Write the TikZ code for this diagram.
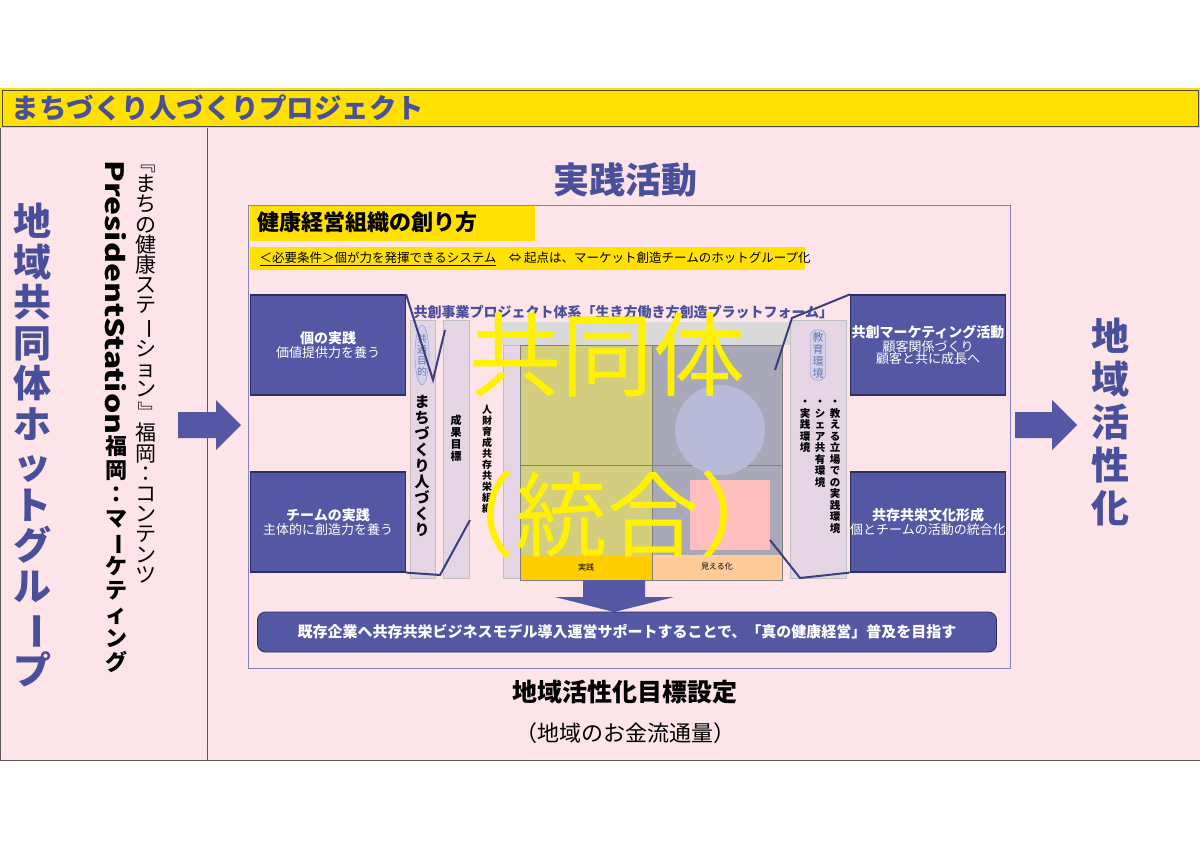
\documentclass[tikz,border=0pt]{standalone}
\usepackage{fontspec}
\usepackage{graphicx}
\setmainfont{Noto Sans CJK JP}
\usetikzlibrary{shapes.geometric}
\definecolor{pk}{HTML}{FCE4E8}
\definecolor{bt}{HTML}{4A4F9C}
\definecolor{bx}{HTML}{5458A4}
\definecolor{yl}{HTML}{FFE000}
\definecolor{lav}{HTML}{E4D4E4}
\definecolor{olive}{HTML}{C8C060}
\definecolor{gq}{HTML}{A8A8B8}
\newcommand\R[1]{\rotatebox[origin=c]{-90}{#1}}
\newcommand\fs[2]{\fontsize{#1}{#2}\selectfont}
\tikzset{
 bluebox/.style={draw=bt!60!black,line width=1.2pt,fill=bx,text=white,align=center,minimum width=155pt,minimum height=100pt,inner sep=0pt},
 vert/.style={align=center,inner sep=0pt,anchor=north},
 fatarrow/.style={fill=bx,draw=none},
 col/.style={draw=gray!50,fill=lav,line width=0.6pt}
}
\begin{document}
\begin{tikzpicture}[x=1pt,y=-1pt]
\useasboundingbox (0,0) rectangle (1200,849);
\fill[white] (0,0) rectangle (1200,849);
% frame
\fill[pk] (0,88) rectangle (1200,760);
\draw[gray!70!black,line width=0.8pt] (0,88) rectangle (1200,760);
\fill[yl] (0,88) rectangle (1200,128);
\draw[gray!60!black,line width=0.8pt] (2,90) rectangle (1198,126);
\node[anchor=west,text=bt,font=\fs{27.5}{30}\bfseries] (title) at (8,108) {まちづくり人づくりプロジェクト};
\draw[gray!70!black,line width=0.8pt] (207,128) -- (207,760);
% left vertical texts
\node[vert,text=bt,font=\fs{38}{40.5}\bfseries] (lgrp) at (32,203) {地\\域\\共\\同\\体\\ホ\\ッ\\ト\\グ\\ル\\\R{ー}\\プ};
\node[vert,font=\fs{21}{20.2}] (c1) at (146,152) {\R{『}\\ま\\ち\\の\\健\\康\\ス\\テ\\\R{ー}\\シ\\ョ\\ン\\\R{』}\\福\\岡\\：\\コ\\ン\\テ\\ン\\ツ};
\node[vert,font=\fs{22}{24}\bfseries] (c2) at (116,160) {\R{\scalebox{1.45}[1.15]{PresidentStation}}\\福\\岡\\：\\マ\\\R{ー}\\ケ\\テ\\ィ\\ン\\グ};
\node[vert,text=bt,font=\fs{38}{43}\bfseries] (rgt) at (1110,318) {地\\域\\活\\性\\化};
% arrows
\fill[fatarrow] (178,412) -- (216,412) -- (216,400) -- (241,425) -- (216,450) -- (216,438) -- (178,438) -- cycle;
\fill[fatarrow] (1015,412) -- (1052,412) -- (1052,400) -- (1077,425) -- (1052,450) -- (1052,438) -- (1015,438) -- cycle;
% title
\node[text=bt,font=\fs{36}{40}\bfseries] (jt) at (625,180) {実践活動};
% inner frame
\draw[bt!70,line width=0.8pt,fill=pk] (248,205) rectangle (1010,668);
\fill[yl] (250,206) rectangle (535,241);
\node[anchor=west,font=\fs{22}{24}\bfseries] (kt) at (254,222) {健康経営組織の創り方};
\fill[yl] (250,247) rectangle (805,270);
\node[anchor=west,font=\fs{12.5}{14}] (ns) at (256,258.5) {\underline{＜必要条件＞個が力を発揮できるシステム}\quad ⇔ 起点は、マーケット創造チームのホットグループ化};
% center picture (approx.)
\node[anchor=west,text=bt,font=\fs{14}{16}\bfseries] (kp) at (410,312) {共創事業プロジェクト体系「生き方働き方創造プラットフォーム」};
\draw[col] (410,320) rectangle (435,578);
\draw[col] (443,320) rectangle (469,578);
\draw[col] (503,345) rectangle (520,578);
\draw[col] (790,320) rectangle (846,578);
\fill[gray!30] (500,322) rectangle (790,345);
\node[font=\fs{9}{10},text=bt] (ch) at (645,350) {地域共同体ホットグループビジネスモデル};
\fill[olive!80] (520,345) rectangle (652,555);
\fill[gq] (652,345) rectangle (782,555);
\fill[yl!80!orange] (520,555) rectangle (652,580);
\fill[orange!40] (652,555) rectangle (782,580);
\draw[gray,line width=0.6pt] (520,345) rectangle (782,580);
\draw[gray,line width=0.6pt] (652,345) -- (652,580) (520,465) -- (782,465);
\fill[bt!40] (720,430) circle (45);
\fill[red!25] (690,480) rectangle (770,550);
\node[font=\fs{8}{9}] (q1) at (586,567) {実践};
\node[font=\fs{8}{9}] (q2) at (717,567) {見える化};
\node[vert,font=\fs{15}{16}\bfseries] (m1) at (422,395) {ま\\ち\\づ\\く\\り\\人\\づ\\く\\り};
\node[vert,font=\fs{11}{12}\bfseries] (m2) at (456,415) {成\\果\\目\\標};
\node[vert,font=\fs{10}{11}\bfseries] (m3) at (487,405) {人\\財\\育\\成\\共\\存\\共\\栄\\組\\織};
\node[vert,font=\fs{10.5}{11.5}\bfseries] (m4) at (805,400) {・\\実\\践\\環\\境};
\node[vert,font=\fs{10.5}{11.5}\bfseries] (m5) at (820,400) {・\\シ\\ェ\\ア\\共\\有\\環\\境};
\node[vert,font=\fs{10.5}{11.5}\bfseries] (m6) at (835,400) {・\\教\\え\\る\\立\\場\\で\\の\\実\\践\\環\\境};
\node[draw=bt!60,fill=bt!25,ellipse,font=\fs{10}{11},align=center,inner sep=0pt,text=bt!80] (e1) at (422,355) {共\\通\\目\\的};
\node[draw=bt!60,fill=bt!25,font=\fs{11}{12},align=center,inner sep=2pt,rounded corners=6pt,text=bt!80] (e2) at (818,355) {教\\育\\環\\境};
% blue boxes
\node[bluebox] (b1) at (328,345) {{\fs{14}{18}\bfseries 個の実践}\\{\fs{13}{17}価値提供力を養う}};
\node[bluebox] (b2) at (328,522) {{\fs{14}{18}\bfseries チームの実践}\\{\fs{13}{17}主体的に創造力を養う}};
\node[bluebox] (b3) at (928,345) {{\fs{14}{18}\bfseries 共創マーケティング活動}\\{\fs{13}{17}顧客関係づくり}\\{\fs{13}{17}顧客と共に成長へ}};
\node[bluebox] (b4) at (928,522) {{\fs{14}{18}\bfseries 共存共栄文化形成}\\{\fs{13}{17}個とチームの活動の統合化}};
% dark polyline
\draw[bt!80!black,line width=2pt] (b1.north east) -- (433,380) -- (445,330) (b2.south east) -- (440,575) -- (470,520) (b3.north west) -- (792,318) -- (775,370) (b4.south west) -- (800,578) -- (770,540);
% down arrow and bottom bar
\fill[fatarrow] (583,580) -- (645,580) -- (645,597) -- (674,597) -- (614,612) -- (555,597) -- (583,597) -- cycle;
\node[draw=bt!60!black,line width=0.8pt,fill=bx,rounded corners=8pt,minimum width=739pt,minimum height=40pt,text=white,font=\fs{15}{18}\bfseries] (bar) at (627,632) {既存企業へ共存共栄ビジネスモデル導入運営サポートすることで、「真の健康経営」普及を目指す};
% overlay text
\node[text=yellow,font=\fs{92}{96}] (ov1) at (607,355) {共同体};
\node[text=yellow,font=\fs{92}{96}] (ov2) at (607,515) {（統合）};
% bottom labels
\node[font=\fs{25}{28}\bfseries] (g1) at (625,692) {地域活性化目標設定};
\node[font=\fs{22}{26}] (g2) at (625,733) {（地域のお金流通量）};
\end{tikzpicture}
\end{document}
